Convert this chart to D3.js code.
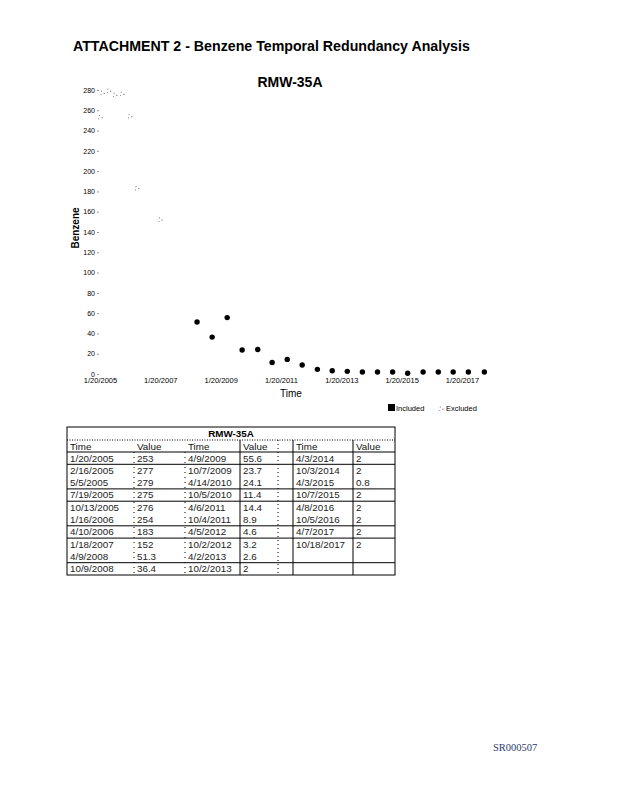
<!DOCTYPE html>
<html>
<head>
<meta charset="utf-8">
<script src="https://cdn.jsdelivr.net/npm/d3@7"></script>
<style>
  body { margin: 0; background: #fff; }
  svg { font-family: "Liberation Sans", Arial, sans-serif; }
</style>
</head>
<body>
<div id="page"></div>
<script>
// sample data
const sampleDates = [
  "1/20/2005", "2/16/2005", "5/5/2005", "7/19/2005", "10/13/2005",
  "1/16/2006", "4/10/2006", "1/18/2007", "4/9/2008", "10/9/2008",
  "4/9/2009", "10/7/2009", "4/14/2010", "10/5/2010", "4/6/2011",
  "10/4/2011", "4/5/2012", "10/2/2012", "4/2/2013", "10/2/2013",
  "4/3/2014", "10/3/2014", "4/3/2015", "10/7/2015", "4/8/2016",
  "10/5/2016", "4/7/2017", "10/18/2017"
];
const benzeneValues = [
  253, 277, 279, 275, 276, 254, 183, 152, 51.3, 36.4,
  55.6, 23.7, 24.1, 11.4, 14.4, 8.9, 4.6, 3.2, 2.6, 2,
  2, 2, 0.8, 2, 2, 2, 2, 2
];
// first 8 samples are excluded from the analysis
const excludedCount = 8;

const xTickLabels = ["1/20/2005", "1/20/2007", "1/20/2009", "1/20/2011", "1/20/2013", "1/20/2015", "1/20/2017"];
const yTicks = [0, 20, 40, 60, 80, 100, 120, 140, 160, 180, 200, 220, 240, 260, 280];

// table: 3 column pairs, 10 rows
const tableRowsPerCol = 10;
const tableTitle = "RMW-35A";

const parseDate = d3.timeParse("%m/%d/%Y");

const data = sampleDates.map((s, i) => ({
  label: s,
  date: parseDate(s),
  value: benzeneValues[i],
  included: i >= excludedCount
}));

const svg = d3.select("#page")
  .append("svg")
  .attr("width", 618)
  .attr("height", 800);

// page header
svg.append("text")
  .attr("x", 73)
  .attr("y", 51)
  .attr("font-size", "14.2px")
  .attr("font-weight", "bold")
  .text("ATTACHMENT 2 - Benzene Temporal Redundancy Analysis");

// chart title
svg.append("text")
  .attr("x", 290)
  .attr("y", 87)
  .attr("text-anchor", "middle")
  .attr("font-size", "14px")
  .attr("font-weight", "bold")
  .text("RMW-35A");

// scales
const x = d3.scaleTime()
  .domain([parseDate("1/20/2005"), parseDate("1/20/2017")])
  .range([100, 462]);

const y = d3.scaleLinear()
  .domain([0, 280])
  .range([374, 90]);

// y axis (labels only, no axis line)
const yAxis = svg.append("g")
  .attr("transform", "translate(99,0)")
  .call(d3.axisLeft(y).tickValues(yTicks).tickSize(2).tickPadding(2));
yAxis.select(".domain").remove();
yAxis.selectAll("line").attr("stroke", "#999");
yAxis.selectAll("text")
  .attr("font-family", "Liberation Sans, Arial, sans-serif")
  .attr("font-size", "7px")
  .attr("fill", "#000");

// x axis
const xAxis = svg.append("g")
  .attr("transform", "translate(0,376)")
  .call(d3.axisBottom(x)
    .tickValues(xTickLabels.map(parseDate))
    .tickFormat((d, i) => xTickLabels[i])
    .tickSize(0)
    .tickPadding(2));
xAxis.select(".domain").remove();
xAxis.selectAll("text")
  .attr("font-family", "Liberation Sans, Arial, sans-serif")
  .attr("font-size", "7.5px")
  .attr("fill", "#000");

// axis titles
svg.append("text")
  .attr("transform", "translate(79,228) rotate(-90)")
  .attr("text-anchor", "middle")
  .attr("font-size", "10px")
  .attr("font-weight", "bold")
  .text("Benzene");

svg.append("text")
  .attr("x", 291)
  .attr("y", 397)
  .attr("text-anchor", "middle")
  .attr("font-size", "10px")
  .text("Time");

// excluded points: faint dotted marks
svg.selectAll(".excluded")
  .data(data.filter(d => !d.included))
  .enter()
  .append("circle")
  .attr("class", "excluded")
  .attr("cx", d => x(d.date))
  .attr("cy", d => y(d.value))
  .attr("r", 2)
  .attr("fill", "none")
  .attr("stroke", "#000")
  .attr("stroke-width", 0.8)
  .attr("stroke-dasharray", "0.7 3");

// included points
svg.selectAll(".included")
  .data(data.filter(d => d.included))
  .enter()
  .append("circle")
  .attr("class", "included")
  .attr("cx", d => x(d.date))
  .attr("cy", d => y(d.value))
  .attr("r", 2.7)
  .attr("fill", "#000");

// legend
const legend = svg.append("g").attr("font-size", "7.5px");
legend.append("rect")
  .attr("x", 388).attr("y", 404)
  .attr("width", 7).attr("height", 7)
  .attr("fill", "#000");
legend.append("text")
  .attr("x", 396).attr("y", 410.5)
  .text("Included");
legend.append("circle")
  .attr("cx", 441).attr("cy", 409).attr("r", 2)
  .attr("fill", "none")
  .attr("stroke", "#000")
  .attr("stroke-width", 0.8)
  .attr("stroke-dasharray", "0.7 3");
legend.append("text")
  .attr("x", 446).attr("y", 410.5)
  .text("Excluded");

// data table
const table = svg.append("g").attr("font-size", "9.8px");
const tLeft = 67, tRight = 395, tTop = 427;
const titleH = 13, headH = 12, rowH = 12.3;
const bodyTop = tTop + titleH + headH;
const bodyBottom = bodyTop + tableRowsPerCol * rowH;
const colX = [67, 134, 185, 240, 293, 353];
const colNames = ["Time", "Value", "Time", "Value", "Time", "Value"];

// outer border
table.append("rect")
  .attr("x", tLeft).attr("y", tTop)
  .attr("width", tRight - tLeft)
  .attr("height", bodyBottom - tTop)
  .attr("fill", "none")
  .attr("stroke", "#000")
  .attr("stroke-width", 1);

table.append("text")
  .attr("x", (tLeft + tRight) / 2)
  .attr("y", tTop + 10)
  .attr("text-anchor", "middle")
  .attr("font-weight", "bold")
  .text(tableTitle);

// dotted line under the title
table.append("line")
  .attr("x1", tLeft).attr("x2", tRight)
  .attr("y1", tTop + titleH).attr("y2", tTop + titleH)
  .attr("stroke", "#000")
  .attr("stroke-dasharray", "1 1.5");

// solid line under column names and between row groups
const rowBreaks = [0, 1, 3, 4, 6, 7, 9];
rowBreaks.forEach(r => {
  const yy = bodyTop + r * rowH;
  table.append("line")
    .attr("x1", tLeft).attr("x2", tRight)
    .attr("y1", yy).attr("y2", yy)
    .attr("stroke", "#000");
});

// vertical separators
[240, 293, 353].forEach(cx => {
  table.append("line")
    .attr("x1", cx).attr("x2", cx)
    .attr("y1", tTop + titleH).attr("y2", bodyBottom)
    .attr("stroke", "#000");
});
[134, 185].forEach(cx => {
  table.append("line")
    .attr("x1", cx).attr("x2", cx)
    .attr("y1", bodyTop).attr("y2", bodyBottom)
    .attr("stroke", "#000")
    .attr("stroke-dasharray", "1 4");
});
table.append("line")
  .attr("x1", 278).attr("x2", 278)
  .attr("y1", tTop + titleH).attr("y2", bodyBottom)
  .attr("stroke", "#000")
  .attr("stroke-dasharray", "1 3");

// column names
colNames.forEach((n, i) => {
  table.append("text")
    .attr("x", colX[i] + 3)
    .attr("y", tTop + titleH + 9.5)
    .attr("fill", "#111")
    .text(n);
});

// cells
data.forEach((d, i) => {
  const c = Math.floor(i / tableRowsPerCol);
  const r = i % tableRowsPerCol;
  const yy = bodyTop + r * rowH + 9.5;
  table.append("text")
    .attr("x", colX[c * 2] + 3).attr("y", yy)
    .attr("fill", "#222")
    .text(d.label);
  table.append("text")
    .attr("x", colX[c * 2 + 1] + 3).attr("y", yy)
    .attr("fill", "#222")
    .text(d.value);
});

// page stamp
svg.append("text")
  .attr("x", 493)
  .attr("y", 751)
  .attr("font-family", "Liberation Serif, Times New Roman, serif")
  .attr("font-size", "10.5px")
  .attr("fill", "#2c3d70")
  .text("SR000507");
</script>
</body>
</html>
